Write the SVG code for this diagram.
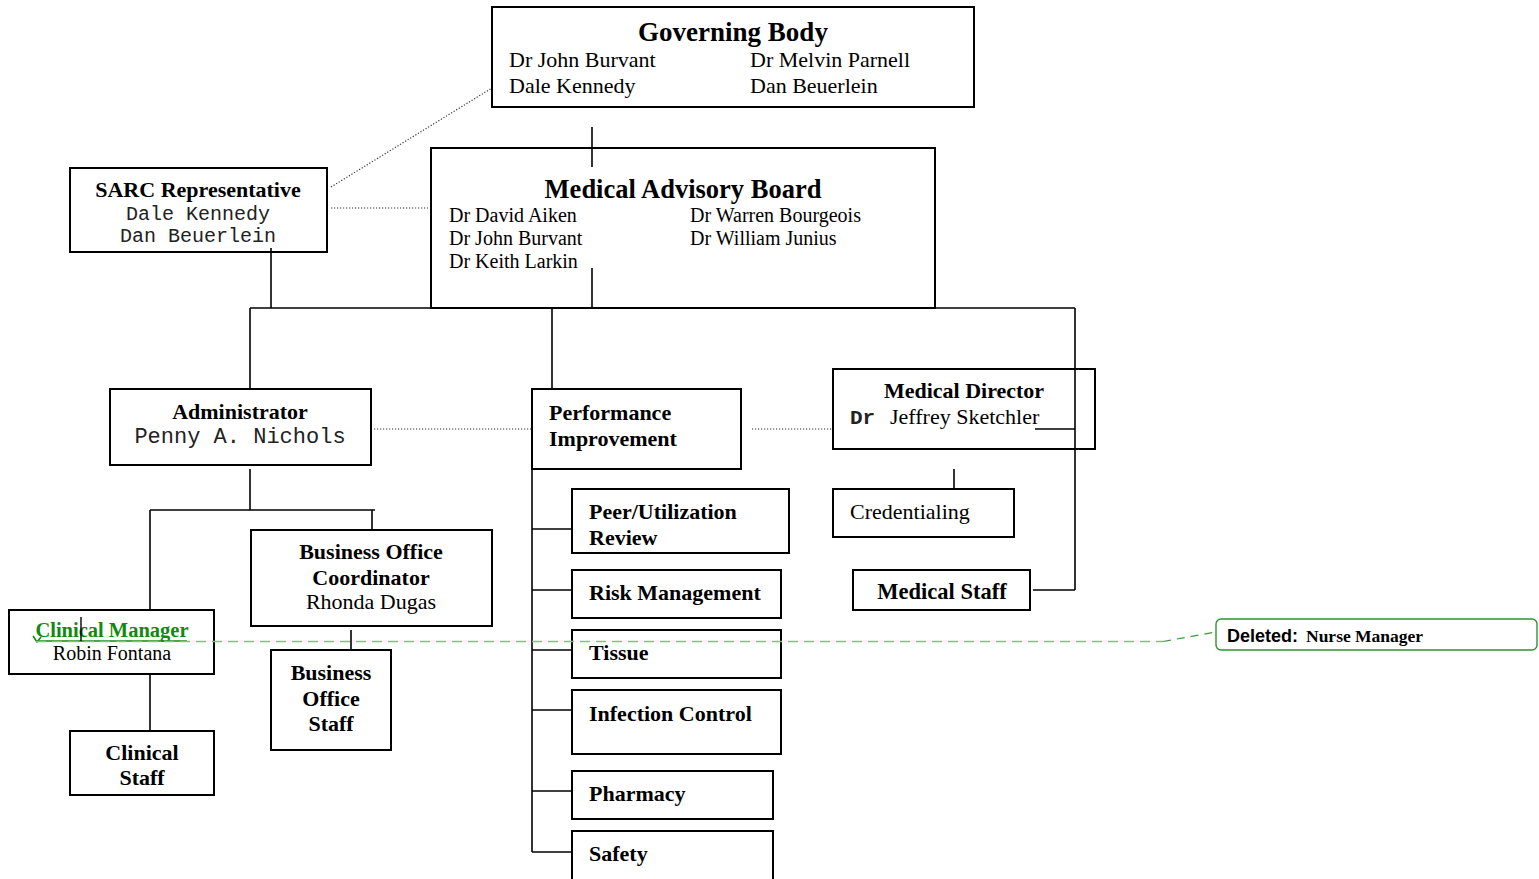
<svg xmlns="http://www.w3.org/2000/svg" width="1539" height="879" viewBox="0 0 1539 879">
<style>
.box{fill:#fff;stroke:#000;stroke-width:2}
.ln{stroke:#000;stroke-width:1.6;fill:none}
.dot{stroke:#333;stroke-width:1.2;stroke-dasharray:1.2 1.8;fill:none}
.t{font-family:"Liberation Serif","Times New Roman",serif;fill:#000}
.b{font-weight:bold}
.m{font-family:"Liberation Mono","Courier New",monospace;fill:#222}
.c{text-anchor:middle}
</style>
<rect width="1539" height="879" fill="#fff"/>
<g id="connectors">
<line class="ln" x1="592" y1="127" x2="592" y2="167"/>
<line class="ln" x1="592" y1="268" x2="592" y2="308"/>
<line class="ln" x1="250" y1="308" x2="1075" y2="308"/>
<line class="ln" x1="1075" y1="308" x2="1075" y2="590"/>
<line class="ln" x1="1033" y1="590" x2="1075" y2="590"/>
<line class="ln" x1="1035" y1="429" x2="1075" y2="429"/>
<line class="ln" x1="271" y1="248" x2="271" y2="308"/>
<line class="ln" x1="250" y1="308" x2="250" y2="389"/>
<line class="ln" x1="552" y1="308" x2="552" y2="389"/>
<line class="ln" x1="250" y1="469" x2="250" y2="510"/>
<line class="ln" x1="150" y1="510" x2="375" y2="510"/>
<line class="ln" x1="372" y1="510" x2="372" y2="530"/>
<line class="ln" x1="150" y1="510" x2="150" y2="610"/>
<line class="ln" x1="150" y1="672" x2="150" y2="731"/>
<line class="ln" x1="351" y1="630" x2="351" y2="654"/>
<line class="ln" x1="954" y1="469" x2="954" y2="489"/>
<line class="ln" x1="532" y1="469" x2="532" y2="852"/>
<line class="ln" x1="532" y1="529" x2="572" y2="529"/>
<line class="ln" x1="532" y1="590" x2="572" y2="590"/>
<line class="ln" x1="532" y1="650" x2="572" y2="650"/>
<line class="ln" x1="532" y1="710" x2="572" y2="710"/>
<line class="ln" x1="532" y1="791" x2="572" y2="791"/>
<line class="ln" x1="532" y1="852" x2="572" y2="852"/>
<line class="dot" x1="331" y1="187" x2="492" y2="88"/>
<line class="dot" x1="331" y1="208" x2="431" y2="208"/>
<line class="dot" x1="374" y1="429" x2="531" y2="429"/>
<line class="dot" x1="752" y1="429" x2="852" y2="429"/>
</g>
<g id="governing-body">
<rect class="box" x="492" y="7" width="482" height="100"/>
<text class="t b c" x="733" y="41" font-size="27">Governing Body</text>
<text class="t" x="509" y="67" font-size="22">Dr John Burvant</text>
<text class="t" x="509" y="93" font-size="22">Dale Kennedy</text>
<text class="t" x="750" y="67" font-size="22">Dr Melvin Parnell</text>
<text class="t" x="750" y="93" font-size="22">Dan Beuerlein</text>
</g>
<g id="medical-advisory-board">
<rect class="box" x="431" y="148" width="504" height="160"/>
<line class="ln" x1="592" y1="148" x2="592" y2="167"/>
<text class="t b c" x="683" y="198" font-size="26.5">Medical Advisory Board</text>
<text class="t" x="449" y="222" font-size="20">Dr David Aiken</text>
<text class="t" x="449" y="245" font-size="20">Dr John Burvant</text>
<text class="t" x="449" y="268" font-size="20">Dr Keith Larkin</text>
<text class="t" x="690" y="222" font-size="20">Dr Warren Bourgeois</text>
<text class="t" x="690" y="245" font-size="20">Dr William Junius</text>
<line class="ln" x1="592" y1="268" x2="592" y2="308"/>
</g>
<g id="sarc">
<rect class="box" x="70" y="168" width="257" height="84"/>
<text class="t b c" x="198" y="197" font-size="22">SARC Representative</text>
<text class="m c" x="198" y="220" font-size="20">Dale Kennedy</text>
<text class="m c" x="198" y="242" font-size="20">Dan Beuerlein</text>
<line class="ln" x1="271" y1="248" x2="271" y2="252"/>
</g>
<g id="administrator">
<rect class="box" x="110" y="389" width="261" height="76"/>
<text class="t b c" x="240" y="419" font-size="22">Administrator</text>
<text class="m c" x="240" y="443" font-size="22">Penny A. Nichols</text>
</g>
<g id="performance-improvement">
<rect class="box" x="532" y="389" width="209" height="80"/>
<text class="t b" x="549" y="420" font-size="22">Performance</text>
<text class="t b" x="549" y="446" font-size="22">Improvement</text>
</g>
<g id="medical-director">
<rect class="box" x="833" y="369" width="262" height="80"/>
<text class="t b c" x="964" y="398" font-size="22">Medical Director</text>
<text class="m b" x="850" y="424" font-size="21">Dr</text>
<text class="t" x="890" y="424" font-size="22">Jeffrey Sketchler</text>
<line class="ln" x1="1035" y1="429" x2="1075" y2="429"/>
<line class="ln" x1="1075" y1="369" x2="1075" y2="449"/>
</g>
<g id="credentialing">
<rect class="box" x="833" y="489" width="181" height="48"/>
<text class="t" x="850" y="519" font-size="22">Credentialing</text>
</g>
<g id="medical-staff">
<rect class="box" x="853" y="570" width="177" height="40"/>
<text class="t b c" x="942" y="599" font-size="22.5">Medical Staff</text>
</g>
<g id="business-office-coordinator">
<rect class="box" x="251" y="530" width="241" height="96"/>
<text class="t b c" x="371" y="559" font-size="22">Business Office</text>
<text class="t b c" x="371" y="585" font-size="22">Coordinator</text>
<text class="t c" x="371" y="609" font-size="22">Rhonda Dugas</text>
</g>
<g id="business-office-staff">
<rect class="box" x="271" y="650" width="120" height="100"/>
<text class="t b c" x="331" y="680" font-size="22">Business</text>
<text class="t b c" x="331" y="706" font-size="22">Office</text>
<text class="t b c" x="331" y="731" font-size="22">Staff</text>
</g>
<g id="clinical-manager">
<rect class="box" x="9" y="610" width="205" height="64"/>
<text class="t b c" x="112" y="637" font-size="20.5" style="fill:#118a11">Clinical Manager</text>
<line x1="36" y1="641" x2="187" y2="641" stroke="#118a11" stroke-width="1.6"/>
<path d="M33,636 L37,642 L41,637" stroke="#118a11" stroke-width="1.6" fill="none"/>
<line x1="81" y1="617" x2="81" y2="641" stroke="#000" stroke-width="1.4"/>
<text class="t c" x="112" y="660" font-size="20">Robin Fontana</text>
</g>
<g id="clinical-staff">
<rect class="box" x="70" y="731" width="144" height="64"/>
<text class="t b c" x="142" y="760" font-size="22">Clinical</text>
<text class="t b c" x="142" y="785" font-size="22">Staff</text>
</g>
<g id="peer-utilization-review">
<rect class="box" x="572" y="489" width="217" height="64"/>
<text class="t b" x="589" y="519" font-size="22">Peer/Utilization</text>
<text class="t b" x="589" y="545" font-size="22">Review</text>
</g>
<g id="risk-management">
<rect class="box" x="572" y="570" width="209" height="48"/>
<text class="t b" x="589" y="600" font-size="22">Risk Management</text>
</g>
<g id="tissue">
<rect class="box" x="572" y="630" width="209" height="48"/>
<text class="t b" x="589" y="660" font-size="22">Tissue</text>
</g>
<g id="infection-control">
<rect class="box" x="572" y="690" width="209" height="64"/>
<text class="t b" x="589" y="721" font-size="22">Infection Control</text>
</g>
<g id="pharmacy">
<rect class="box" x="572" y="771" width="201" height="48"/>
<text class="t b" x="589" y="801" font-size="22">Pharmacy</text>
</g>
<g id="safety">
<rect class="box" x="572" y="831" width="201" height="60"/>
<text class="t b" x="589" y="861" font-size="22">Safety</text>
</g>
<g id="deleted-comment">
<polyline points="36,641.5 1163,641.5" stroke="#7cc47c" stroke-width="1.4" stroke-dasharray="10 6" fill="none"/>
<polyline points="1163,641.5 1216,632" stroke="#3a9a3a" stroke-width="1.2" stroke-dasharray="8 6" fill="none"/>
<rect x="1216" y="619" width="321" height="31" rx="5" fill="#fff" stroke="#2e962e" stroke-width="1.4"/>
<text x="1227" y="642" font-family="'Liberation Sans',Arial,sans-serif" font-weight="bold" font-size="18">Deleted:</text>
<text class="t b" x="1306" y="642" font-size="17.5">Nurse Manager</text>
</g>
</svg>
